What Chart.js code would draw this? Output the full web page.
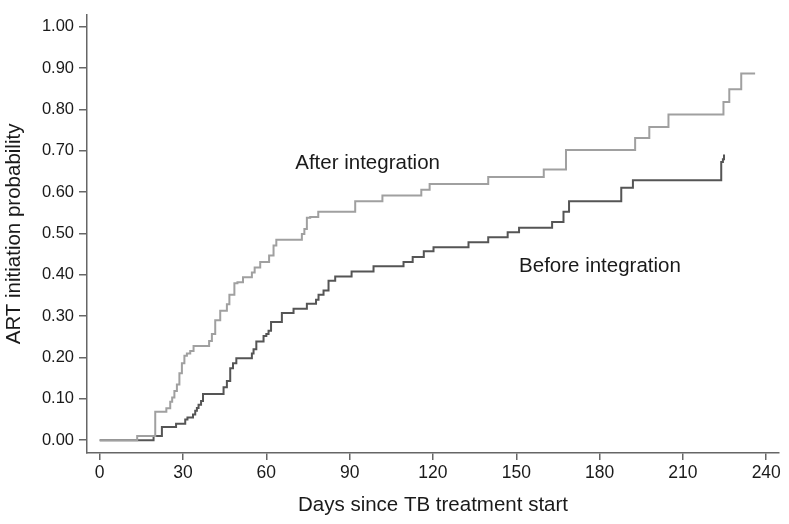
<!DOCTYPE html>
<html>
<head>
<meta charset="utf-8">
<script src="https://cdn.jsdelivr.net/npm/chart.js@4.4.1/dist/chart.umd.min.js"></script>
<style>
  body { margin: 0; background: #fff; }
</style>
</head>
<body>
<canvas id="km" width="789" height="524"></canvas>
<script>
// Kaplan-Meier style cumulative ART initiation
var afterDays = [0, 13.5, 20.0, 24.0, 25.4, 26.1, 26.9, 27.8, 28.7, 29.6, 30.5, 31.4, 32.6, 33.8,
  39.4, 40.4, 41.6, 43.4, 45.8, 46.7, 48.5, 49.6, 51.6, 54.8, 55.8, 57.8, 61.0, 62.6, 63.6,
  72.8, 73.7, 74.6, 75.8, 78.7, 92.0, 101.8, 115.8, 118.8, 139.9, 159.9, 167.9,
  192.8, 197.9, 204.8, 224.6, 226.7, 231.0, 236.0];
var afterProb = [0, 0.010, 0.069, 0.077, 0.093, 0.103, 0.119, 0.135, 0.162, 0.186, 0.204, 0.210, 0.216, 0.228,
  0.240, 0.257, 0.290, 0.313, 0.329, 0.352, 0.380, 0.382, 0.394, 0.406, 0.418, 0.431, 0.447, 0.471, 0.485,
  0.499, 0.511, 0.538, 0.540, 0.553, 0.578, 0.592, 0.606, 0.620, 0.637, 0.655, 0.702,
  0.731, 0.758, 0.788, 0.818, 0.849, 0.887, 0.887];

var beforeDays = [0, 19.4, 22.4, 27.5, 30.8, 31.6, 33.6, 34.4, 35.0, 35.6, 36.5, 37.2,
  44.6, 45.8, 47.0, 48.0, 49.2, 54.8, 55.4, 56.4, 59.0, 60.0, 60.8, 61.7, 65.6, 69.8, 74.6,
  77.9, 78.8, 80.6, 82.4, 84.8, 90.7, 98.6, 109.4, 112.7, 116.7, 120.2, 132.8, 139.9,
  146.9, 151.0, 162.9, 167.0, 169.0, 187.8, 192.0, 223.8, 224.4, 224.8];
var beforeProb = [0, 0.010, 0.032, 0.040, 0.050, 0.055, 0.062, 0.071, 0.078, 0.086, 0.095, 0.112,
  0.128, 0.143, 0.174, 0.186, 0.198, 0.210, 0.220, 0.239, 0.252, 0.257, 0.265, 0.286, 0.308, 0.318, 0.330,
  0.340, 0.352, 0.362, 0.386, 0.396, 0.408, 0.421, 0.431, 0.443, 0.457, 0.467, 0.479, 0.491,
  0.503, 0.514, 0.528, 0.553, 0.578, 0.611, 0.629, 0.673, 0.680, 0.691];

var xTicks = [0, 30, 60, 90, 120, 150, 180, 210, 240];
var yTicks = [0, 0.1, 0.2, 0.3, 0.4, 0.5, 0.6, 0.7, 0.8, 0.9, 1.0];

function toPoints(days, probs) {
  return days.map(function (d, i) { return { x: d, y: probs[i] }; });
}

var axisColor = '#666666';
var textColor = '#1a1a1a';
var fontFamily = '"Liberation Sans", Arial, sans-serif';

// curve labels, placed in data coordinates
var curveLabels = [
  { text: 'After integration', x: 70.4, y: 0.671 },
  { text: 'Before integration', x: 151.0, y: 0.420 }
];

var curveLabelPlugin = {
  id: 'curveLabels',
  afterDatasetsDraw: function (chart) {
    var ctx = chart.ctx;
    ctx.save();
    ctx.font = '20.5px ' + fontFamily;
    ctx.fillStyle = textColor;
    ctx.textAlign = 'left';
    ctx.textBaseline = 'middle';
    curveLabels.forEach(function (l) {
      ctx.fillText(l.text, chart.scales.x.getPixelForValue(l.x), chart.scales.y.getPixelForValue(l.y));
    });
    ctx.restore();
  }
};

new Chart(document.getElementById('km').getContext('2d'), {
  type: 'line',
  data: {
    datasets: [{
      label: 'After integration',
      data: toPoints(afterDays, afterProb),
      borderColor: '#a0a0a0',
      borderWidth: 2,
      stepped: 'before',
      pointRadius: 0,
      fill: false
    }, {
      label: 'Before integration',
      data: toPoints(beforeDays, beforeProb),
      borderColor: '#555555',
      borderWidth: 2,
      stepped: 'before',
      pointRadius: 0,
      fill: false
    }]
  },
  options: {
    responsive: false,
    animation: false,
    layout: { padding: { top: 6, right: 10, left: 0, bottom: 0 } },
    plugins: {
      legend: { display: false },
      tooltip: { enabled: false }
    },
    scales: {
      x: {
        type: 'linear',
        min: -4.57,
        max: 244.6,
        afterFit: function (s) { s.height = 71; },
        afterBuildTicks: function (s) { s.ticks = xTicks.map(function (v) { return { value: v }; }); },
        border: { display: true, color: axisColor, width: 1.5 },
        grid: { drawOnChartArea: false, drawTicks: true, tickLength: 7, color: axisColor, lineWidth: 1.5 },
        ticks: {
          padding: 3,
          color: textColor,
          font: { family: fontFamily, size: 17.5 },
          maxRotation: 0,
          callback: function (v) { return v; }
        },
        title: {
          display: true,
          text: 'Days since TB treatment start',
          color: textColor,
          font: { family: fontFamily, size: 20.5 },
          padding: { top: 0, bottom: 6 }
        }
      },
      y: {
        type: 'linear',
        min: -0.031,
        max: 1.029,
        afterFit: function (s) { s.width = 87; },
        afterBuildTicks: function (s) { s.ticks = yTicks.map(function (v) { return { value: v }; }); },
        border: { display: true, color: axisColor, width: 1.5 },
        grid: { drawOnChartArea: false, drawTicks: true, tickLength: 8, color: axisColor, lineWidth: 1.5 },
        ticks: {
          padding: 5,
          color: textColor,
          font: { family: fontFamily, size: 16.5 },
          callback: function (v) { return Number(v).toFixed(2); }
        },
        title: {
          display: true,
          text: 'ART initiation probability',
          color: textColor,
          font: { family: fontFamily, size: 20.5 },
          padding: { top: 2, bottom: 0 }
        }
      }
    }
  },
  plugins: [curveLabelPlugin]
});
</script>
</body>
</html>
